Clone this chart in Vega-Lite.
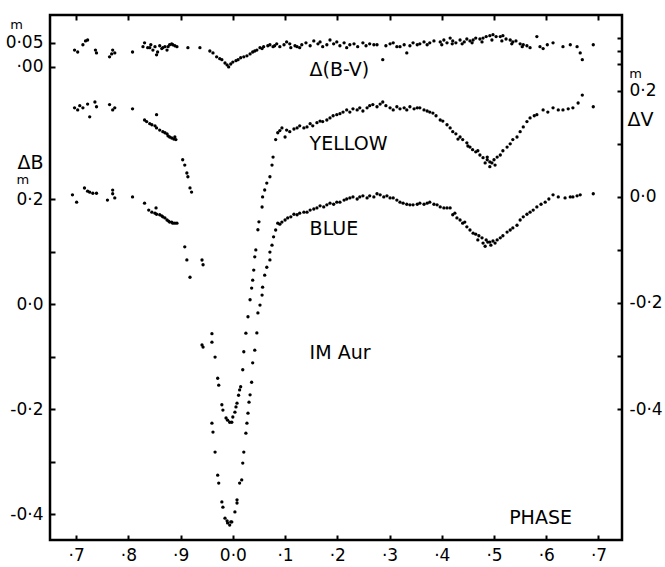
{
  "$schema": "https://vega.github.io/schema/vega-lite/v6.json",
  "width": 572,
  "height": 525,
  "autosize": {"type": "none"},
  "padding": {"left": 50, "top": 15, "right": 43, "bottom": 27},
  "background": "white",
  "config": {
    "view": {"stroke": "black", "strokeWidth": 2.5},
    "axis": {"domain": false, "grid": false, "tickColor": "black", "tickWidth": 2, "tickSize": -5, "labelPadding": 12, "labelColor": "black", "labelFont": "DejaVu Sans", "labelFontSize": 17, "labelOverlap": false, "labelFlush": false, "titleFont": "DejaVu Sans", "titleColor": "black", "titleFontWeight": "normal"},
    "text": {"font": "DejaVu Sans", "color": "black"}
  },
  "datasets": {
    "bv": [
      {"p":-0.303,"m":0.035},{"p":-0.297,"m":0.031},{"p":-0.287,"m":0.046},{"p":-0.282,"m":0.054},{"p":-0.278,"m":0.056},{"p":-0.263,"m":0.035},{"p":-0.261,"m":0.029},{"p":-0.236,"m":0.021},{"p":-0.232,"m":0.027},{"p":-0.230,"m":0.035},{"p":-0.226,"m":0.029},{"p":-0.192,"m":0.031},{"p":-0.172,"m":0.042},{"p":-0.169,"m":0.050},{"p":-0.163,"m":0.040},{"p":-0.159,"m":0.040},{"p":-0.157,"m":0.046},{"p":-0.153,"m":0.035},{"p":-0.149,"m":0.042},{"p":-0.146,"m":0.025},{"p":-0.144,"m":0.031},{"p":-0.140,"m":0.044},{"p":-0.136,"m":0.038},{"p":-0.134,"m":0.040},{"p":-0.130,"m":0.042},{"p":-0.126,"m":0.035},{"p":-0.124,"m":0.042},{"p":-0.121,"m":0.046},{"p":-0.117,"m":0.048},{"p":-0.115,"m":0.046},{"p":-0.111,"m":0.044},{"p":-0.107,"m":0.042},{"p":-0.086,"m":0.040},{"p":-0.063,"m":0.040},{"p":-0.044,"m":0.033},{"p":-0.038,"m":0.029},{"p":-0.031,"m":0.021},{"p":-0.025,"m":0.017},{"p":-0.021,"m":0.015},{"p":-0.015,"m":0.008},{"p":-0.011,"m":0.004},{"p":-0.008,"m":0.000},{"p":-0.004,"m":0.006},{"p":0.000,"m":0.010},{"p":0.006,"m":0.013},{"p":0.010,"m":0.015},{"p":0.015,"m":0.019},{"p":0.021,"m":0.021},{"p":0.027,"m":0.023},{"p":0.033,"m":0.027},{"p":0.038,"m":0.031},{"p":0.042,"m":0.033},{"p":0.046,"m":0.035},{"p":0.052,"m":0.040},{"p":0.056,"m":0.038},{"p":0.059,"m":0.042},{"p":0.067,"m":0.044},{"p":0.071,"m":0.046},{"p":0.077,"m":0.042},{"p":0.080,"m":0.044},{"p":0.084,"m":0.048},{"p":0.090,"m":0.042},{"p":0.098,"m":0.046},{"p":0.103,"m":0.052},{"p":0.109,"m":0.048},{"p":0.111,"m":0.040},{"p":0.119,"m":0.044},{"p":0.123,"m":0.042},{"p":0.128,"m":0.040},{"p":0.132,"m":0.046},{"p":0.140,"m":0.050},{"p":0.148,"m":0.044},{"p":0.155,"m":0.054},{"p":0.163,"m":0.048},{"p":0.167,"m":0.052},{"p":0.172,"m":0.042},{"p":0.180,"m":0.046},{"p":0.186,"m":0.056},{"p":0.193,"m":0.048},{"p":0.199,"m":0.052},{"p":0.205,"m":0.044},{"p":0.213,"m":0.050},{"p":0.218,"m":0.040},{"p":0.224,"m":0.046},{"p":0.232,"m":0.048},{"p":0.239,"m":0.042},{"p":0.249,"m":0.050},{"p":0.255,"m":0.044},{"p":0.262,"m":0.048},{"p":0.270,"m":0.046},{"p":0.276,"m":0.046},{"p":0.287,"m":0.015},{"p":0.293,"m":0.044},{"p":0.301,"m":0.048},{"p":0.307,"m":0.050},{"p":0.314,"m":0.042},{"p":0.320,"m":0.042},{"p":0.328,"m":0.046},{"p":0.333,"m":0.029},{"p":0.339,"m":0.044},{"p":0.345,"m":0.050},{"p":0.353,"m":0.046},{"p":0.358,"m":0.048},{"p":0.366,"m":0.052},{"p":0.372,"m":0.046},{"p":0.377,"m":0.050},{"p":0.385,"m":0.054},{"p":0.397,"m":0.052},{"p":0.400,"m":0.046},{"p":0.404,"m":0.056},{"p":0.410,"m":0.050},{"p":0.416,"m":0.060},{"p":0.420,"m":0.048},{"p":0.421,"m":0.054},{"p":0.427,"m":0.050},{"p":0.435,"m":0.056},{"p":0.439,"m":0.048},{"p":0.443,"m":0.052},{"p":0.448,"m":0.058},{"p":0.454,"m":0.054},{"p":0.458,"m":0.050},{"p":0.460,"m":0.056},{"p":0.465,"m":0.060},{"p":0.473,"m":0.058},{"p":0.477,"m":0.052},{"p":0.479,"m":0.060},{"p":0.485,"m":0.063},{"p":0.492,"m":0.065},{"p":0.496,"m":0.056},{"p":0.498,"m":0.067},{"p":0.504,"m":0.063},{"p":0.512,"m":0.063},{"p":0.515,"m":0.054},{"p":0.517,"m":0.065},{"p":0.523,"m":0.058},{"p":0.531,"m":0.056},{"p":0.534,"m":0.048},{"p":0.536,"m":0.052},{"p":0.542,"m":0.054},{"p":0.550,"m":0.048},{"p":0.554,"m":0.042},{"p":0.556,"m":0.046},{"p":0.563,"m":0.044},{"p":0.569,"m":0.040},{"p":0.582,"m":0.063},{"p":0.588,"m":0.042},{"p":0.594,"m":0.038},{"p":0.602,"m":0.046},{"p":0.613,"m":0.050},{"p":0.632,"m":0.042},{"p":0.646,"m":0.046},{"p":0.659,"m":0.042},{"p":0.665,"m":0.029},{"p":0.669,"m":0.015},{"p":0.690,"m":0.046}
    ],
    "v": [
      {"p":-0.303,"m":0.168},{"p":-0.297,"m":0.164},{"p":-0.293,"m":0.172},{"p":-0.287,"m":0.168},{"p":-0.278,"m":0.175},{"p":-0.274,"m":0.151},{"p":-0.264,"m":0.179},{"p":-0.261,"m":0.170},{"p":-0.236,"m":0.174},{"p":-0.230,"m":0.164},{"p":-0.226,"m":0.168},{"p":-0.192,"m":0.166},{"p":-0.169,"m":0.145},{"p":-0.165,"m":0.142},{"p":-0.159,"m":0.138},{"p":-0.155,"m":0.136},{"p":-0.149,"m":0.134},{"p":-0.146,"m":0.155},{"p":-0.146,"m":0.130},{"p":-0.140,"m":0.126},{"p":-0.134,"m":0.123},{"p":-0.130,"m":0.121},{"p":-0.126,"m":0.119},{"p":-0.124,"m":0.115},{"p":-0.121,"m":0.113},{"p":-0.117,"m":0.111},{"p":-0.113,"m":0.109},{"p":-0.111,"m":0.113},{"p":-0.109,"m":0.108},{"p":-0.096,"m":0.070},{"p":-0.092,"m":0.060},{"p":-0.088,"m":0.045},{"p":-0.086,"m":0.038},{"p":-0.082,"m":0.017},{"p":-0.079,"m":0.009},{"p":-0.059,"m":-0.119},{"p":-0.057,"m":-0.128},{"p":-0.040,"m":-0.258},{"p":-0.040,"m":-0.274},{"p":-0.034,"m":-0.302},{"p":-0.029,"m":-0.342},{"p":-0.027,"m":-0.355},{"p":-0.021,"m":-0.392},{"p":-0.019,"m":-0.402},{"p":-0.013,"m":-0.417},{"p":-0.010,"m":-0.421},{"p":-0.006,"m":-0.425},{"p":-0.002,"m":-0.425},{"p":0.000,"m":-0.415},{"p":0.004,"m":-0.406},{"p":0.006,"m":-0.396},{"p":0.008,"m":-0.389},{"p":0.011,"m":-0.374},{"p":0.013,"m":-0.364},{"p":0.015,"m":-0.358},{"p":0.019,"m":-0.326},{"p":0.021,"m":-0.292},{"p":0.025,"m":-0.257},{"p":0.029,"m":-0.226},{"p":0.033,"m":-0.194},{"p":0.036,"m":-0.172},{"p":0.038,"m":-0.157},{"p":0.040,"m":-0.138},{"p":0.042,"m":-0.113},{"p":0.044,"m":-0.100},{"p":0.048,"m":-0.062},{"p":0.050,"m":-0.047},{"p":0.056,"m":-0.019},{"p":0.057,"m":0.000},{"p":0.061,"m":0.013},{"p":0.065,"m":0.026},{"p":0.071,"m":0.038},{"p":0.075,"m":0.060},{"p":0.077,"m":0.075},{"p":0.082,"m":0.108},{"p":0.086,"m":0.121},{"p":0.090,"m":0.125},{"p":0.094,"m":0.130},{"p":0.100,"m":0.113},{"p":0.103,"m":0.126},{"p":0.109,"m":0.123},{"p":0.117,"m":0.128},{"p":0.123,"m":0.130},{"p":0.128,"m":0.134},{"p":0.136,"m":0.130},{"p":0.142,"m":0.132},{"p":0.148,"m":0.138},{"p":0.153,"m":0.134},{"p":0.161,"m":0.140},{"p":0.167,"m":0.143},{"p":0.172,"m":0.142},{"p":0.180,"m":0.145},{"p":0.186,"m":0.149},{"p":0.192,"m":0.153},{"p":0.199,"m":0.155},{"p":0.205,"m":0.157},{"p":0.211,"m":0.160},{"p":0.218,"m":0.164},{"p":0.224,"m":0.160},{"p":0.230,"m":0.166},{"p":0.238,"m":0.164},{"p":0.243,"m":0.168},{"p":0.249,"m":0.162},{"p":0.257,"m":0.168},{"p":0.262,"m":0.172},{"p":0.268,"m":0.174},{"p":0.276,"m":0.170},{"p":0.282,"m":0.175},{"p":0.287,"m":0.179},{"p":0.293,"m":0.172},{"p":0.301,"m":0.168},{"p":0.307,"m":0.164},{"p":0.314,"m":0.170},{"p":0.320,"m":0.166},{"p":0.328,"m":0.168},{"p":0.333,"m":0.164},{"p":0.339,"m":0.170},{"p":0.347,"m":0.166},{"p":0.353,"m":0.168},{"p":0.358,"m":0.168},{"p":0.366,"m":0.164},{"p":0.372,"m":0.162},{"p":0.377,"m":0.160},{"p":0.383,"m":0.158},{"p":0.389,"m":0.153},{"p":0.397,"m":0.145},{"p":0.402,"m":0.143},{"p":0.410,"m":0.136},{"p":0.416,"m":0.130},{"p":0.421,"m":0.123},{"p":0.427,"m":0.119},{"p":0.431,"m":0.109},{"p":0.435,"m":0.113},{"p":0.440,"m":0.108},{"p":0.448,"m":0.102},{"p":0.450,"m":0.096},{"p":0.454,"m":0.094},{"p":0.459,"m":0.089},{"p":0.465,"m":0.085},{"p":0.469,"m":0.087},{"p":0.473,"m":0.079},{"p":0.479,"m":0.074},{"p":0.483,"m":0.064},{"p":0.487,"m":0.070},{"p":0.487,"m":0.075},{"p":0.492,"m":0.066},{"p":0.492,"m":0.057},{"p":0.496,"m":0.064},{"p":0.500,"m":0.070},{"p":0.502,"m":0.060},{"p":0.506,"m":0.075},{"p":0.512,"m":0.079},{"p":0.517,"m":0.087},{"p":0.525,"m":0.094},{"p":0.531,"m":0.100},{"p":0.536,"m":0.108},{"p":0.544,"m":0.113},{"p":0.550,"m":0.123},{"p":0.556,"m":0.132},{"p":0.563,"m":0.142},{"p":0.569,"m":0.149},{"p":0.577,"m":0.153},{"p":0.582,"m":0.155},{"p":0.594,"m":0.164},{"p":0.603,"m":0.160},{"p":0.613,"m":0.168},{"p":0.623,"m":0.164},{"p":0.632,"m":0.164},{"p":0.642,"m":0.166},{"p":0.651,"m":0.168},{"p":0.661,"m":0.177},{"p":0.669,"m":0.192},{"p":0.690,"m":0.170}
    ],
    "b": [
      {"p":-0.307,"m":0.208},{"p":-0.299,"m":0.194},{"p":-0.284,"m":0.221},{"p":-0.278,"m":0.215},{"p":-0.274,"m":0.213},{"p":-0.268,"m":0.211},{"p":-0.261,"m":0.211},{"p":-0.240,"m":0.198},{"p":-0.230,"m":0.217},{"p":-0.230,"m":0.210},{"p":-0.226,"m":0.202},{"p":-0.192,"m":0.204},{"p":-0.169,"m":0.192},{"p":-0.161,"m":0.179},{"p":-0.155,"m":0.175},{"p":-0.149,"m":0.173},{"p":-0.147,"m":0.183},{"p":-0.146,"m":0.171},{"p":-0.140,"m":0.170},{"p":-0.136,"m":0.168},{"p":-0.134,"m":0.166},{"p":-0.130,"m":0.164},{"p":-0.126,"m":0.160},{"p":-0.123,"m":0.158},{"p":-0.121,"m":0.156},{"p":-0.117,"m":0.156},{"p":-0.115,"m":0.154},{"p":-0.111,"m":0.154},{"p":-0.107,"m":0.154},{"p":-0.092,"m":0.109},{"p":-0.088,"m":0.084},{"p":-0.082,"m":0.051},{"p":-0.059,"m":-0.078},{"p":-0.057,"m":-0.082},{"p":-0.040,"m":-0.227},{"p":-0.038,"m":-0.244},{"p":-0.034,"m":-0.282},{"p":-0.029,"m":-0.326},{"p":-0.027,"m":-0.341},{"p":-0.021,"m":-0.377},{"p":-0.019,"m":-0.387},{"p":-0.015,"m":-0.408},{"p":-0.011,"m":-0.413},{"p":-0.010,"m":-0.417},{"p":-0.006,"m":-0.421},{"p":-0.004,"m":-0.415},{"p":-0.002,"m":-0.415},{"p":0.004,"m":-0.396},{"p":0.008,"m":-0.379},{"p":0.008,"m":-0.373},{"p":0.013,"m":-0.341},{"p":0.017,"m":-0.335},{"p":0.019,"m":-0.303},{"p":0.021,"m":-0.282},{"p":0.025,"m":-0.246},{"p":0.027,"m":-0.227},{"p":0.029,"m":-0.208},{"p":0.031,"m":-0.187},{"p":0.033,"m":-0.173},{"p":0.036,"m":-0.149},{"p":0.038,"m":-0.112},{"p":0.042,"m":-0.088},{"p":0.046,"m":-0.055},{"p":0.048,"m":-0.017},{"p":0.052,"m":-0.002},{"p":0.056,"m":0.017},{"p":0.057,"m":0.032},{"p":0.061,"m":0.055},{"p":0.065,"m":0.070},{"p":0.071,"m":0.084},{"p":0.071,"m":0.099},{"p":0.075,"m":0.112},{"p":0.078,"m":0.128},{"p":0.082,"m":0.141},{"p":0.086,"m":0.154},{"p":0.090,"m":0.152},{"p":0.094,"m":0.156},{"p":0.100,"m":0.160},{"p":0.105,"m":0.164},{"p":0.111,"m":0.166},{"p":0.117,"m":0.171},{"p":0.123,"m":0.170},{"p":0.128,"m":0.173},{"p":0.136,"m":0.175},{"p":0.142,"m":0.175},{"p":0.148,"m":0.179},{"p":0.155,"m":0.181},{"p":0.161,"m":0.183},{"p":0.167,"m":0.187},{"p":0.174,"m":0.185},{"p":0.180,"m":0.189},{"p":0.186,"m":0.192},{"p":0.193,"m":0.190},{"p":0.199,"m":0.194},{"p":0.205,"m":0.194},{"p":0.213,"m":0.198},{"p":0.218,"m":0.200},{"p":0.224,"m":0.202},{"p":0.230,"m":0.204},{"p":0.238,"m":0.200},{"p":0.243,"m":0.204},{"p":0.249,"m":0.206},{"p":0.257,"m":0.202},{"p":0.262,"m":0.206},{"p":0.270,"m":0.204},{"p":0.276,"m":0.210},{"p":0.282,"m":0.208},{"p":0.289,"m":0.204},{"p":0.295,"m":0.206},{"p":0.301,"m":0.202},{"p":0.307,"m":0.202},{"p":0.314,"m":0.198},{"p":0.320,"m":0.194},{"p":0.326,"m":0.192},{"p":0.333,"m":0.190},{"p":0.339,"m":0.189},{"p":0.345,"m":0.189},{"p":0.353,"m":0.190},{"p":0.358,"m":0.192},{"p":0.366,"m":0.190},{"p":0.372,"m":0.192},{"p":0.377,"m":0.194},{"p":0.385,"m":0.190},{"p":0.391,"m":0.189},{"p":0.397,"m":0.185},{"p":0.404,"m":0.183},{"p":0.410,"m":0.183},{"p":0.416,"m":0.183},{"p":0.421,"m":0.170},{"p":0.425,"m":0.173},{"p":0.429,"m":0.164},{"p":0.435,"m":0.160},{"p":0.440,"m":0.154},{"p":0.444,"m":0.156},{"p":0.448,"m":0.147},{"p":0.454,"m":0.141},{"p":0.460,"m":0.135},{"p":0.465,"m":0.133},{"p":0.469,"m":0.122},{"p":0.471,"m":0.130},{"p":0.477,"m":0.126},{"p":0.479,"m":0.116},{"p":0.483,"m":0.110},{"p":0.485,"m":0.122},{"p":0.488,"m":0.118},{"p":0.492,"m":0.118},{"p":0.494,"m":0.112},{"p":0.498,"m":0.120},{"p":0.502,"m":0.116},{"p":0.506,"m":0.122},{"p":0.512,"m":0.126},{"p":0.517,"m":0.130},{"p":0.525,"m":0.137},{"p":0.531,"m":0.141},{"p":0.536,"m":0.145},{"p":0.544,"m":0.150},{"p":0.550,"m":0.160},{"p":0.556,"m":0.166},{"p":0.563,"m":0.171},{"p":0.569,"m":0.175},{"p":0.575,"m":0.179},{"p":0.582,"m":0.185},{"p":0.590,"m":0.190},{"p":0.598,"m":0.194},{"p":0.605,"m":0.200},{"p":0.613,"m":0.208},{"p":0.623,"m":0.204},{"p":0.636,"m":0.202},{"p":0.646,"m":0.204},{"p":0.651,"m":0.204},{"p":0.659,"m":0.206},{"p":0.665,"m":0.208},{"p":0.690,"m":0.210}
    ]
  },
  "layer": [
    {
      "encoding": {
        "x": {"field": "p", "type": "quantitative", "scale": {"domain": [-0.35, 0.745], "nice": false, "zero": false},
              "axis": {"orient": "top", "values": [-0.3,-0.2,-0.1,0,0.1,0.2,0.3,0.4,0.5,0.6,0.7], "labels": false, "title": null}},
        "y": {"field": "m", "type": "quantitative", "scale": {"domain": [-0.985, 0.108], "nice": false, "zero": false},
              "axis": {"orient": "left", "values": [0, 0.05], "labelExpr": "datum.value > 0.01 ? '0·05' : '·00'", "title": null}}
      },
      "layer": [
        {"data": {"name": "bv"}, "mark": {"type": "point", "filled": true, "size": 11, "color": "black", "opacity": 1}},
        {"data": {"values": [{"p": 0.147, "m": -0.006, "t": "Δ(B-V)"}]}, "mark": {"type": "text", "align": "left", "baseline": "middle", "fontSize": 19}, "encoding": {"text": {"field": "t"}}},
        {"data": {"values": [{"p": -0.414, "m": 0.087, "t": "m"}]}, "mark": {"type": "text", "align": "center", "baseline": "middle", "fontSize": 13}, "encoding": {"text": {"field": "t"}}}
      ]
    },
    {
      "encoding": {
        "x": {"field": "p", "type": "quantitative", "scale": {"domain": [-0.35, 0.745], "nice": false, "zero": false},
              "axis": {"orient": "bottom", "values": [-0.3,-0.2,-0.1,0,0.1,0.2,0.3,0.4,0.5,0.6,0.7], "labelExpr": "abs(datum.value) < 0.001 ? '0·0' : '·' + round(((datum.value + 1) % 1) * 10)", "title": null}},
        "y": {"field": "m", "type": "quantitative", "scale": {"domain": [-0.4495, 0.5505], "nice": false, "zero": false},
              "axis": {"orient": "left", "values": [-0.4,-0.3,-0.2,-0.1,0,0.1,0.2], "labelExpr": "round(datum.value*10) == 2 ? '0·2' : round(datum.value*10) == 0 ? '0·0' : round(datum.value*10) == -2 ? '-0·2' : round(datum.value*10) == -4 ? '-0·4' : ''",
                       "title": "ΔB", "titleAngle": 0, "titleX": -20, "titleY": 147, "titleAlign": "center", "titleBaseline": "middle", "titleFontSize": 19}}
      },
      "layer": [
        {"data": {"name": "b"}, "mark": {"type": "point", "filled": true, "size": 11, "color": "black", "opacity": 1}},
        {"data": {"values": [{"p": 0.147, "m": 0.143, "t": "BLUE"}, {"p": 0.147, "m": -0.093, "t": "IM Aur"}, {"p": 0.529, "m": -0.408, "t": "PHASE"}]}, "mark": {"type": "text", "align": "left", "baseline": "middle", "fontSize": 19}, "encoding": {"text": {"field": "t"}}},
        {"data": {"values": [{"p": -0.402, "m": 0.236, "t": "m"}]}, "mark": {"type": "text", "align": "center", "baseline": "middle", "fontSize": 13}, "encoding": {"text": {"field": "t"}}}
      ]
    },
    {
      "encoding": {
        "x": {"field": "p", "type": "quantitative", "scale": {"domain": [-0.35, 0.745], "nice": false, "zero": false}, "axis": null},
        "y": {"field": "m", "type": "quantitative", "scale": {"domain": [-0.647, 0.343], "nice": false, "zero": false},
              "axis": {"orient": "right", "values": [-0.4,-0.3,-0.2,-0.1,0,0.1,0.2,0.25,0.275,0.3], "labelExpr": "round(datum.value*10) == 2 ? '0·2' : round(datum.value*10) == 0 ? '0·0' : round(datum.value*10) == -2 ? '-0·2' : round(datum.value*10) == -4 ? '-0·4' : ''",
                       "title": "ΔV", "titleAngle": 0, "titleX": 18, "titleY": 104, "titleAlign": "center", "titleBaseline": "middle", "titleFontSize": 19}}
      },
      "layer": [
        {"data": {"name": "v"}, "mark": {"type": "point", "filled": true, "size": 11, "color": "black", "opacity": 1}},
        {"data": {"values": [{"p": 0.147, "m": 0.100, "t": "YELLOW"}]}, "mark": {"type": "text", "align": "left", "baseline": "middle", "fontSize": 19}, "encoding": {"text": {"field": "t"}}},
        {"data": {"values": [{"p": 0.771, "m": 0.232, "t": "m"}]}, "mark": {"type": "text", "align": "center", "baseline": "middle", "fontSize": 13}, "encoding": {"text": {"field": "t"}}}
      ]
    }
  ],
  "resolve": {"scale": {"y": "independent"}, "axis": {"x": "independent", "y": "independent"}}
}
